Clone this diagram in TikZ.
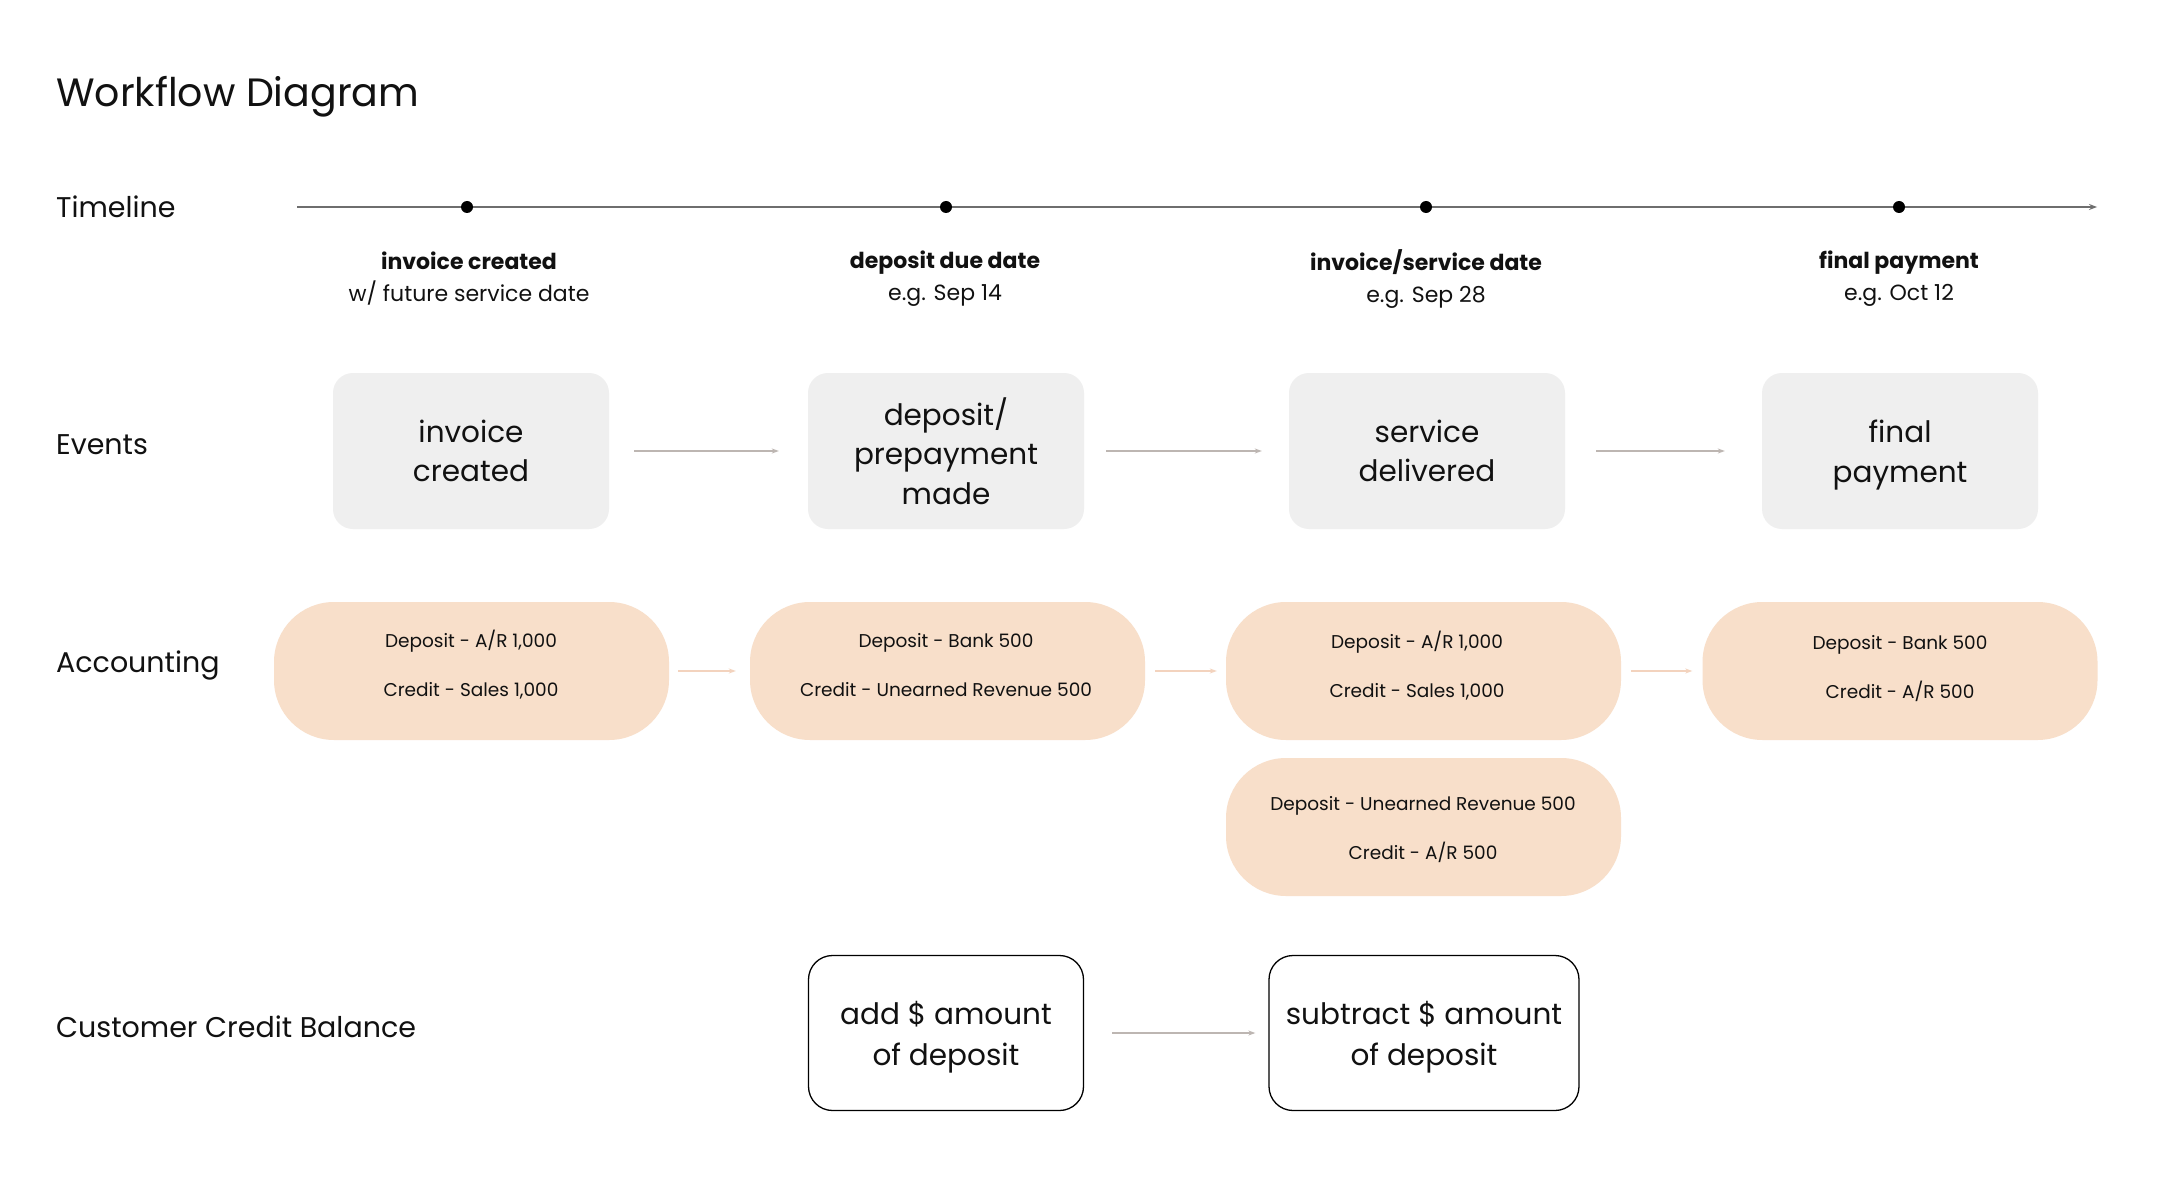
\documentclass[tikz,border=0pt]{standalone}
\usepackage{fontspec}
\setmainfont{Poppins}
\usetikzlibrary{arrows.meta}
\definecolor{txt}{HTML}{111111}
\definecolor{evfill}{HTML}{EFEFEF}
\definecolor{acfill}{HTML}{F8DFCA}
\definecolor{evarr}{HTML}{BDB6B2}
\definecolor{acarr}{HTML}{F3D3BE}
\definecolor{tline}{HTML}{6E6E6E}
\newcommand{\fs}[2]{\fontsize{#1}{#2}\selectfont}
\tikzset{
  rowlabel/.style={anchor=west, inner sep=0, text=txt, font=\fs{28.5}{36}},
  tdot/.style={circle, fill=black, minimum size=12, inner sep=0},
  tlabel/.style={align=center, inner sep=0, text=txt, font=\fs{22}{32}},
  evbox/.style={rectangle, rounded corners=20, fill=evfill, minimum width=276, minimum height=156, align=center, inner sep=0, text=txt, font=\fs{29.5}{39.5}},
  acbox/.style={rectangle, rounded corners=60, fill=acfill, minimum width=395, minimum height=138, inner sep=0},
  actext/.style={align=center, inner sep=0, text=txt, font=\fs{18.5}{49}},
  ccbox/.style={rectangle, rounded corners=24, draw=black, line width=1.3, fill=white, minimum height=155, align=center, inner sep=0, text=txt, font=\fs{29.5}{40.5}},
  evarrow/.style={draw=evarr, line width=1.2, -{Stealth[length=7, width=5]}},
  acarrow/.style={draw=acarr, line width=1.2, -{Stealth[length=7, width=5]}},
}
\begin{document}
\begin{tikzpicture}[x=1pt, y=-1pt]
\useasboundingbox[fill=white] (0,0) rectangle (2181,1190);

% title
\node[anchor=base west, inner sep=0, text=txt, font=\fs{39.5}{48}] (title) at (56,107) {Workflow Diagram};

% row labels
\node[rowlabel] (rTimeline) at (56,207) {Timeline};
\node[rowlabel] (rEvents) at (56,445) {Events};
\node[rowlabel] (rAccounting) at (56,665) {Accounting};
\node[rowlabel] (rCredit) at (56,1027) {Customer Credit Balance};

% timeline
\coordinate (tstart) at (297,207);
\coordinate (tend) at (2097,207);
\draw[draw=tline, line width=1.8, -{Stealth[length=8, width=6]}] (tstart) -- (tend);
\node[tdot] (d1) at (467,207) {};
\node[tdot] (d2) at (946,207) {};
\node[tdot] (d3) at (1426,207) {};
\node[tdot] (d4) at (1899,207) {};

\node[tlabel] (l1) at (469,279) {\textbf{invoice created}\\w/ future service date};
\node[tlabel] (l2) at (945,279) {\textbf{deposit due date}\\e.g. Sep 14};
\node[tlabel] (l3) at (1426,279) {\textbf{invoice/service date}\\e.g. Sep 28};
\node[tlabel] (l4) at (1899,279) {\textbf{final payment}\\e.g. Oct 12};

% events
\node[evbox] (e1) at (471,451) {invoice\\created};
\node[evbox] (e2) at (946,451) {deposit/\\prepayment\\made};
\node[evbox] (e3) at (1427,451) {service\\delivered};
\node[evbox] (e4) at (1900,451) {final\\\smash{payment}};
\draw[evarrow, shorten <=25, shorten >=29] (e1) -- (e2);
\draw[evarrow, shorten <=22, shorten >=27] (e2) -- (e3);
\draw[evarrow, shorten <=31, shorten >=37] (e3) -- (e4);

% accounting
\node[acbox] (a1) at (471.5,671) {};
\node[acbox] (a2) at (947.5,671) {};
\node[acbox] (a3) at (1423.5,671) {};
\node[acbox] (a4) at (1900,671) {};
\node[acbox] (a5) at (1423.5,827) {};
\node[actext] (t1) at (471,664.5) {Deposit - A/R 1,000\\Credit - Sales 1,000};
\node[actext] (t2) at (946,665) {Deposit - Bank 500\\Credit - Unearned Revenue 500};
\node[actext] (t3) at (1417,666) {Deposit - A/R 1,000\\Credit - Sales 1,000};
\node[actext] (t4) at (1900,669) {Deposit - Bank 500\\Credit - A/R 500};
\node[actext] (t5) at (1423,830) {Deposit - Unearned Revenue 500\\Credit - A/R 500};
\draw[acarrow, shorten <=9, shorten >=14] (a1) -- (a2);
\draw[acarrow, shorten <=10, shorten >=9] (a2) -- (a3);
\draw[acarrow, shorten <=10, shorten >=10] (a3) -- (a4);

% customer credit balance
\node[ccbox, minimum width=275] (c1) at (946,1033) {};
\node[ccbox, minimum width=310] (c2) at (1424,1033) {};
\node[align=center, inner sep=0, text=txt, font=\fs{29.5}{40.5}] (c1t) at (946,1037) {add \$ amount\\of deposit};
\node[align=center, inner sep=0, text=txt, font=\fs{29.5}{40.5}] (c2t) at (1424,1037) {subtract \$ amount\\of deposit};
\draw[evarrow, shorten <=28, shorten >=13] (c1) -- (c2);
\end{tikzpicture}
\end{document}
